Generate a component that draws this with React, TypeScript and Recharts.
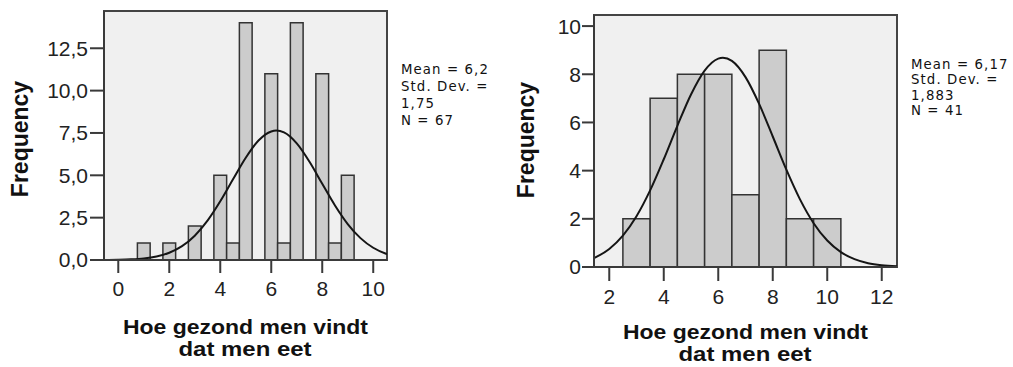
import React from 'react';
import { ComposedChart, Line, XAxis, YAxis, ReferenceArea } from 'recharts';

// ---- Left histogram (N = 67) ----
const leftBinCenters = [1, 2, 3, 4, 4.5, 5, 6, 6.5, 7, 8, 8.5, 9];
const leftCounts = [1, 1, 2, 5, 1, 14, 11, 1, 14, 11, 1, 5];
const leftBinWidth = 0.5;
const leftCurveX = [-0.56, 0, 0.5, 1, 1.5, 2, 2.5, 3, 3.5, 4, 4.5, 5, 5.5, 6, 6.2, 6.5, 7, 7.5, 8, 8.5, 9, 9.5, 10, 10.5, 10.54];
const leftCurveY = [0.004, 0.014, 0.038, 0.092, 0.207, 0.429, 0.817, 1.436, 2.324, 3.467, 4.766, 6.04, 7.053, 7.59, 7.64, 7.529, 6.882, 5.797, 4.502, 3.22, 2.124, 1.291, 0.723, 0.373, 0.353];
const leftXTicks = [0, 2, 4, 6, 8, 10];
const leftYTicks = [0, 2.5, 5, 7.5, 10, 12.5];
const leftXDomain: [number, number] = [-0.56, 10.54];
const leftYDomain: [number, number] = [0, 14.7];
const leftStats = ['Mean = 6,2', 'Std. Dev. =', '1,75', 'N = 67'];

// ---- Right histogram (N = 41) ----
const rightBinCenters = [3, 4, 5, 6, 7, 8, 9, 10];
const rightCounts = [2, 7, 8, 8, 3, 9, 2, 2];
const rightBinWidth = 1;
const rightCurveX = [1.44, 2, 2.5, 3, 3.5, 4, 4.5, 5, 5.5, 6, 6.17, 6.5, 7, 7.5, 8, 8.5, 9, 9.5, 10, 10.5, 11, 11.5, 12, 12.56];
const rightCurveY = [0.37, 0.748, 1.3, 2.106, 3.179, 4.472, 5.861, 7.162, 8.154, 8.651, 8.686, 8.554, 7.882, 6.769, 5.417, 4.04, 2.808, 1.819, 1.098, 0.618, 0.324, 0.158, 0.072, 0.027];
const rightXTicks = [2, 4, 6, 8, 10, 12];
const rightYTicks = [0, 2, 4, 6, 8, 10];
const rightXDomain: [number, number] = [1.44, 12.56];
const rightYDomain: [number, number] = [0, 10.46];
const rightStats = ['Mean = 6,17', 'Std. Dev. =', '1,883', 'N = 41'];

const xTitle = ['Hoe gezond men vindt', 'dat men eet'];
const yTitle = 'Frequency';

const FONT = '"Liberation Sans", Arial, sans-serif';
const STAT_FONT = '"DejaVu Sans", sans-serif';

type HistProps = {
  left: number;
  width: number;
  height: number;
  margin: { top: number; right: number; bottom: number; left: number };
  xAxisHeight: number;
  xDomain: [number, number];
  yDomain: [number, number];
  xTicks: number[];
  yTicks: number[];
  yFormat: (v: number) => string;
  centers: number[];
  counts: number[];
  binWidth: number;
  curveX: number[];
  curveY: number[];
  xTickSize: number;
  xTickMargin: number;
  yTickSize: number;
  yTickMargin: number;
};

function Histogram(p: HistProps) {
  const data = p.curveX.map((x, i) => ({ x, y: p.curveY[i] }));
  const tickStyle = { fill: '#222', fontSize: 21, fontFamily: FONT };
  const lineStyle = { stroke: '#3a3a3a', strokeWidth: 2 };
  return (
    <div style={{ position: 'absolute', left: p.left, top: 0 }}>
      <ComposedChart width={p.width} height={p.height} data={data} margin={p.margin}>
        <XAxis
          dataKey="x"
          type="number"
          domain={p.xDomain}
          ticks={p.xTicks}
          allowDataOverflow
          interval={0}
          height={p.xAxisHeight}
          tickSize={p.xTickSize}
          tickMargin={p.xTickMargin}
          axisLine={lineStyle}
          tickLine={lineStyle}
          tick={tickStyle}
        />
        <YAxis
          type="number"
          domain={p.yDomain}
          ticks={p.yTicks}
          allowDataOverflow
          interval={0}
          width={80}
          tickSize={p.yTickSize}
          tickMargin={p.yTickMargin}
          tickFormatter={p.yFormat}
          axisLine={lineStyle}
          tickLine={lineStyle}
          tick={tickStyle}
        />
        <ReferenceArea
          x1={p.xDomain[0]}
          x2={p.xDomain[1]}
          y1={p.yDomain[0]}
          y2={p.yDomain[1]}
          fill="#f0f0f0"
          fillOpacity={1}
          stroke="#444"
          strokeWidth={2}
          ifOverflow="visible"
        />
        {p.centers.map((c, i) => (
          <ReferenceArea
            key={i}
            x1={c - p.binWidth / 2}
            x2={c + p.binWidth / 2}
            y1={0}
            y2={p.counts[i]}
            fill="#cccccc"
            fillOpacity={1}
            stroke="#333"
            strokeWidth={1.5}
            ifOverflow="visible"
          />
        ))}
        <Line
          type="monotone"
          dataKey="y"
          stroke="#151515"
          strokeWidth={2}
          dot={false}
          activeDot={false}
          isAnimationActive={false}
        />
      </ComposedChart>
    </div>
  );
}

export default function App() {
  const yTitleStyle = { fontFamily: FONT, fontWeight: 'bold' as const, fontSize: 23, fill: '#111' };
  const xTitleStyle = { fontFamily: FONT, fontWeight: 'bold' as const, fontSize: 20, fill: '#111' };
  const statStyle = { fontFamily: STAT_FONT, fontSize: 13.3, letterSpacing: 1.1, fill: '#111' };
  return (
    <div style={{ position: 'absolute', left: 0, top: 0, width: 1013, height: 367, background: '#fff', overflow: 'hidden' }}>
      <Histogram
        left={0}
        width={390}
        height={300}
        margin={{ top: 11, right: 3, bottom: 0, left: 24 }}
        xAxisHeight={40}
        xDomain={leftXDomain}
        yDomain={leftYDomain}
        xTicks={leftXTicks}
        yTicks={leftYTicks}
        yFormat={(v: number) => v.toFixed(1).replace('.', ',')}
        centers={leftBinCenters}
        counts={leftCounts}
        binWidth={leftBinWidth}
        curveX={leftCurveX}
        curveY={leftCurveY}
        xTickSize={13}
        xTickMargin={8}
        yTickSize={14}
        yTickMargin={2}
      />
      <Histogram
        left={500}
        width={400}
        height={310}
        margin={{ top: 15, right: 3, bottom: 0, left: 14 }}
        xAxisHeight={43}
        xDomain={rightXDomain}
        yDomain={rightYDomain}
        xTicks={rightXTicks}
        yTicks={rightYTicks}
        yFormat={(v: number) => String(v)}
        centers={rightBinCenters}
        counts={rightCounts}
        binWidth={rightBinWidth}
        curveX={rightCurveX}
        curveY={rightCurveY}
        xTickSize={14}
        xTickMargin={8}
        yTickSize={12}
        yTickMargin={1}
      />
      <svg width={1013} height={367} style={{ position: 'absolute', left: 0, top: 0, pointerEvents: 'none' }}>
        <text transform="translate(20,139) rotate(-90)" textAnchor="middle" dominantBaseline="central" style={yTitleStyle}>{yTitle}</text>
        <text transform="translate(526,140) rotate(-90)" textAnchor="middle" dominantBaseline="central" style={yTitleStyle}>{yTitle}</text>
        <text x={123} y={333.5} textLength={245} lengthAdjust="spacingAndGlyphs" style={xTitleStyle}>{xTitle[0]}</text>
        <text x={178.5} y={356} textLength={133} lengthAdjust="spacingAndGlyphs" style={xTitleStyle}>{xTitle[1]}</text>
        <text x={623} y={338.5} textLength={245} lengthAdjust="spacingAndGlyphs" style={xTitleStyle}>{xTitle[0]}</text>
        <text x={678.5} y={361} textLength={133} lengthAdjust="spacingAndGlyphs" style={xTitleStyle}>{xTitle[1]}</text>
        {leftStats.map((s, i) => (
          <text key={'l' + i} x={401} y={69 + i * 17} dominantBaseline="central" style={statStyle}>{s}</text>
        ))}
        {rightStats.map((s, i) => (
          <text key={'r' + i} x={911} y={64 + i * 15.6} dominantBaseline="central" style={statStyle}>{s}</text>
        ))}
      </svg>
    </div>
  );
}
